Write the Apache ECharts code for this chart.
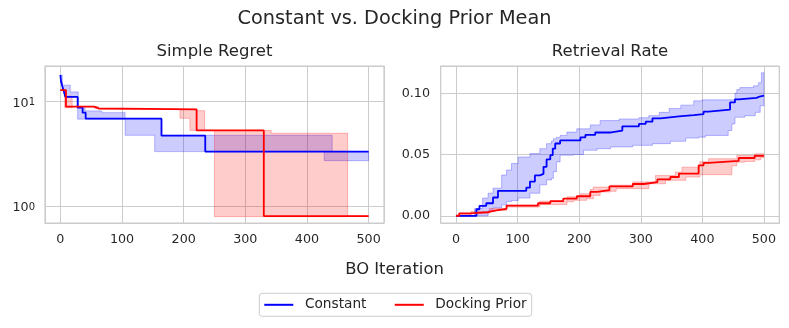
<!DOCTYPE html>
<html><head><meta charset="utf-8">
<script src="https://cdn.jsdelivr.net/npm/echarts@6/dist/echarts.min.js"></script>
<style>html,body{margin:0;padding:0;background:#fff}#c{width:789px;height:328px}</style>
</head><body><div id="c"></div>
<script>
// ---- Data (iteration, value) ----
const regretConstant = [[0,18.0],[1,15.6],[3,14.1],[5,12.9],[8,11.1],[28,8.76],[36,7.85],[41,6.87],[164,4.72],[235,3.32],[500,3.32]];
// [iteration, low, high]
const regretConstantBand = [[0,15.5,18.0],[3,12.9,14.4],[8,11.1,14.4],[16,11.1,12.4],[28,6.8,12.4],[29,6.8,8.76],[40,6.8,8.15],[67,6.8,7.85],[105,4.76,6.87],[153,3.32,6.87],[164,3.32,4.76],[428,2.72,4.76],[441,2.72,3.32],[500,2.72,3.32]];
const regretDocking = [[0,12.9],[9,8.96],[55,8.64],[62,8.45],[221,5.3],[330,0.80],[500,0.80]];
const regretDockingBand = [[0,12.9,12.9],[7,8.76,11.3],[19,8.96,9.0],[55,8.64,8.96],[62,8.45,8.45],[194,6.93,8.45],[210,5.3,8.45],[221,5.3,8.2],[234,5.3,5.3],[250,0.79,5.3],[342,0.79,4.98],[466,0.80,0.80],[500,0.80,0.80]];

const rateConstant = [[0,0],[33,0.0054],[38,0.0082],[49,0.0103],[60,0.015],[68,0.0204],[114,0.023],[120,0.028],[128,0.033],[136,0.0343],[142,0.04],[147,0.046],[153,0.0495],[157,0.0548],[161,0.059],[169,0.0615],[202,0.064],[210,0.066],[226,0.068],[252,0.0695],[270,0.073],[297,0.075],[308,0.0768],[319,0.0795],[332,0.0811],[362,0.0822],[386,0.083],[402,0.085],[410,0.0866],[445,0.0925],[453,0.095],[459,0.0962],[488,0.0973],[493,0.098],[500,0.098]];
const rateConstantBand = [[0,0,0],[30,0,0.006],[43,0,0.0145],[52,0.004,0.0185],[60,0.0065,0.0226],[74,0.009,0.0333],[82,0.0118,0.0374],[90,0.0125,0.0427],[101,0.0145,0.048],[120,0.0185,0.0508],[136,0.0253,0.0548],[147,0.0293,0.0589],[155,0.0306,0.061],[158,0.036,0.0629],[163,0.044,0.064],[169,0.0495,0.0656],[180,0.0495,0.0683],[191,0.05,0.0683],[196,0.05,0.071],[207,0.0535,0.071],[218,0.0535,0.0742],[229,0.0548,0.0742],[234,0.0548,0.0777],[251,0.0562,0.0777],[265,0.0562,0.079],[287,0.0575,0.079],[297,0.0575,0.080],[313,0.0575,0.0817],[319,0.0589,0.0817],[330,0.0589,0.0844],[346,0.0589,0.0876],[348,0.0608,0.0876],[365,0.0608,0.0903],[373,0.0634,0.0903],[386,0.0634,0.0938],[394,0.0642,0.0938],[400,0.0642,0.0946],[405,0.0656,0.0946],[442,0.0696,0.0946],[448,0.075,0.0946],[453,0.0804,0.1],[456,0.0804,0.103],[461,0.0804,0.1046],[469,0.0817,0.1046],[483,0.0817,0.106],[486,0.0844,0.106],[491,0.0844,0.1086],[494,0.0898,0.1086],[496,0.0898,0.1167],[500,0.0898,0.1167]];
const rateDocking = [[0,0],[5,0.002],[24,0.003],[52,0.0043],[63,0.0058],[82,0.0084],[133,0.0103],[153,0.012],[174,0.014],[196,0.016],[218,0.0195],[229,0.021],[249,0.024],[287,0.026],[305,0.0276],[327,0.0298],[348,0.0317],[362,0.0345],[394,0.0412],[402,0.0432],[410,0.0448],[459,0.0472],[485,0.049],[500,0.049]];
const rateDockingBand = [[0,0,0.001],[24,0.002,0.0035],[54,0.0035,0.006],[63,0.0045,0.006],[82,0.0072,0.0087],[136,0.0092,0.012],[180,0.0115,0.0155],[191,0.0127,0.0155],[202,0.0127,0.018],[212,0.014,0.018],[218,0.014,0.0215],[223,0.0167,0.0235],[234,0.0195,0.0235],[251,0.02,0.025],[260,0.0222,0.025],[287,0.0222,0.0277],[313,0.0262,0.0277],[324,0.0262,0.033],[340,0.029,0.033],[356,0.029,0.0357],[367,0.029,0.0397],[373,0.0317,0.0397],[396,0.0336,0.0442],[410,0.0336,0.0466],[448,0.0408,0.0466],[456,0.0438,0.0493],[469,0.0443,0.0493],[485,0.0457,0.0506],[495,0.0477,0.0506],[500,0.0477,0.0506]];

const legendNames = ['Constant', 'Docking Prior'];

const BLUE = '#0000ff', RED = '#ff0000';
const FONT = 'DejaVu Sans';
const TXT = '#262626';
const GRIDC = '#cccccc';

function bandSeries(band, fill, stroke, gi) {
  return {
    type: 'custom', xAxisIndex: gi, yAxisIndex: gi, silent: true, z: 1,
    data: band.map(r => [r[0], r[1], r[2]]),
    encode: { x: 0, y: [1, 2] },
    renderItem: function (params, api) {
      if (params.dataIndex !== 0) return null;
      const pts = [];
      const n = band.length;
      for (let i = 0; i < n; i++) {
        const x1 = i + 1 < n ? band[i + 1][0] : band[i][0];
        pts.push(api.coord([band[i][0], band[i][2]]));
        pts.push(api.coord([x1, band[i][2]]));
      }
      for (let i = n - 1; i >= 0; i--) {
        const x1 = i + 1 < n ? band[i + 1][0] : band[i][0];
        pts.push(api.coord([x1, band[i][1]]));
        pts.push(api.coord([band[i][0], band[i][1]]));
      }
      return { type: 'polygon', shape: { points: pts }, style: { fill: fill, stroke: stroke, lineWidth: 1 } };
    }
  };
}
function lineSeries(name, data, color, gi) {
  return {
    type: 'line', name: name, xAxisIndex: gi, yAxisIndex: gi, data: data, step: 'end',
    symbol: 'none', silent: true, z: 3,
    lineStyle: { color: color, width: 1.8 }, itemStyle: { color: color }
  };
}
function xAxis(gi) {
  return {
    gridIndex: gi, type: 'value', min: -25, max: 525,
    axisLine: { show: false }, axisTick: { show: false },
    splitLine: { show: true, lineStyle: { color: GRIDC, width: 1 } },
    axisLabel: { showMinLabel: false, showMaxLabel: false, fontSize: 12.7, color: TXT, fontFamily: FONT, margin: 10 }
  };
}

const chart = echarts.init(document.getElementById('c'), null, { renderer: 'canvas' });
chart.setOption({
  animation: false,
  backgroundColor: '#ffffff',
  title: [
    { text: 'Constant vs. Docking Prior Mean', left: 'center', top: 9, padding: 0,
      textStyle: { fontSize: 19.3, fontWeight: 'normal', color: TXT, fontFamily: FONT, lineHeight: 19.3 } },
    { text: 'Simple Regret', left: 214.5, textAlign: 'center', top: 43.2, padding: 0,
      textStyle: { fontSize: 16.5, fontWeight: 'normal', color: TXT, fontFamily: FONT, lineHeight: 16.5 } },
    { text: 'Retrieval Rate', left: 610, textAlign: 'center', top: 43.2, padding: 0,
      textStyle: { fontSize: 16.5, fontWeight: 'normal', color: TXT, fontFamily: FONT, lineHeight: 16.5 } },
    { text: 'BO Iteration', left: 'center', top: 261.6, padding: 0,
      textStyle: { fontSize: 16.4, fontWeight: 'normal', color: TXT, fontFamily: FONT, lineHeight: 16.4 } }
  ],
  legend: {
    data: legendNames.map(n => ({ name: n, icon: 'rect' })),
    left: 259.3, top: 293.3, orient: 'horizontal',
    itemWidth: 29, itemHeight: 2, itemGap: 28.3,
    padding: [4.5, 5, 4.5, 5],
    borderColor: GRIDC, borderWidth: 1, borderRadius: 3, backgroundColor: '#ffffff',
    textStyle: { fontSize: 13.7, color: TXT, fontFamily: FONT, padding: [0, 0, 0, 6.6] }
  },
  grid: [
    { left: 45, top: 66, width: 339, height: 157, show: true, borderColor: GRIDC, borderWidth: 1.25, backgroundColor: 'transparent' },
    { left: 440.7, top: 66, width: 338.6, height: 157, show: true, borderColor: GRIDC, borderWidth: 1.25, backgroundColor: 'transparent' }
  ],
  xAxis: [xAxis(0), xAxis(1)],
  yAxis: [
    { gridIndex: 0, type: 'log', logBase: 10, min: 0.687, max: 21.97,
      axisLine: { show: false }, axisTick: { show: false },
      splitLine: { show: true, lineStyle: { color: GRIDC, width: 1 } },
      minorTick: { show: false }, minorSplitLine: { show: false },
      axisLabel: {
        showMinLabel: false, showMaxLabel: false, margin: 10,
        formatter: function (v) { return '{b|10}{s|' + Math.round(Math.log10(v)) + '}'; },
        rich: {
          b: { fontSize: 12.7, color: TXT, fontFamily: FONT, lineHeight: 16, padding: [4, 0, 0, 0] },
          s: { fontSize: 10, color: TXT, fontFamily: FONT, lineHeight: 10, verticalAlign: 'top', padding: [4, 0, 0, 0] }
        }
      }
    },
    { gridIndex: 1, type: 'value', min: -0.0058, max: 0.1222, splitNumber: 3,
      axisLine: { show: false }, axisTick: { show: false },
      splitLine: { show: true, lineStyle: { color: GRIDC, width: 1 } },
      axisLabel: {
        showMinLabel: false, showMaxLabel: false, margin: 10.7,
        fontSize: 12.7, color: TXT, fontFamily: FONT,
        formatter: function (v) { return v.toFixed(2); }
      }
    }
  ],
  series: [
    bandSeries(regretConstantBand, 'rgba(0,0,255,0.2)', 'rgba(0,0,255,0.25)', 0),
    bandSeries(regretDockingBand, 'rgba(255,0,0,0.2)', 'rgba(255,0,0,0.25)', 0),
    lineSeries('Constant', regretConstant, BLUE, 0),
    lineSeries('Docking Prior', regretDocking, RED, 0),
    bandSeries(rateConstantBand, 'rgba(0,0,255,0.2)', 'rgba(0,0,255,0.25)', 1),
    bandSeries(rateDockingBand, 'rgba(255,0,0,0.2)', 'rgba(255,0,0,0.25)', 1),
    lineSeries('Constant', rateConstant, BLUE, 1),
    lineSeries('Docking Prior', rateDocking, RED, 1)
  ]
});
</script>
</body></html>
